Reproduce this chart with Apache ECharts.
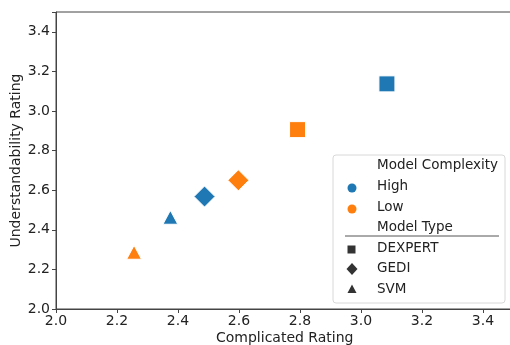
<!DOCTYPE html>
<html><head><meta charset="utf-8">
<script src="https://cdn.jsdelivr.net/npm/echarts@6/dist/echarts.min.js"></script>
<style>html,body{margin:0;padding:0;background:#fff}#c{width:510px;height:345px}</style>
</head><body><div id="c"></div>
<script>
const xTicks = [2.0, 2.2, 2.4, 2.6, 2.8, 3.0, 3.2, 3.4];
const yTicks = [2.0, 2.2, 2.4, 2.6, 2.8, 3.0, 3.2, 3.4];
const models = ['DEXPERT', 'GEDI', 'SVM'];
const complexity = ['High', 'Low'];
const highX = [3.085, 2.487, 2.375];
const highY = [3.137, 2.568, 2.463];
const lowX = [2.792, 2.598, 2.256];
const lowY = [2.906, 2.650, 2.287];

const colors = {High: '#1f77b4', Low: '#ff7f0e'};
const symbols = {DEXPERT: 'rect', GEDI: 'diamond', SVM: 'triangle'};
const sizes = {DEXPERT: [16,16], GEDI: [21,21], SVM: [15,14]};
const FONT = 'DejaVu Sans';

const series = [];
complexity.forEach(c => {
  const xs = c === 'High' ? highX : lowX;
  const ys = c === 'High' ? highY : lowY;
  models.forEach((m, i) => {
    series.push({
      type: 'scatter', name: c + ' ' + m,
      symbol: symbols[m], symbolSize: sizes[m],
      itemStyle: {color: colors[c], borderColor: '#fff', borderWidth: 1, opacity: 1},
      data: [[xs[i], ys[i]]]
    });
  });
});

const chart = echarts.init(document.getElementById('c'));
const axisCommon = {
  type: 'value', min: 2.0, max: 3.5, interval: 0.2,
  axisLine: {show: true, lineStyle: {color: '#444', width: 1}},
  axisTick: {show: true, inside: false, length: 4, lineStyle: {color: '#444'}},
  splitLine: {show: false},
  nameLocation: 'middle',
  nameMoveOverlap: false,
  nameTextStyle: {fontFamily: FONT, fontSize: 14, color: '#222'},
};
// Legend built as graphics
const LX = 333, LY = 155;
const rowY = [165, 186, 207, 227, 248, 268, 289];
const g = [
  {type: 'rect', shape: {x: LX, y: LY, width: 172, height: 148, r: 3},
   style: {fill: 'rgba(255,255,255,0.85)', stroke: '#d8d8d8', lineWidth: 1}, z: 100},
  {type: 'line', shape: {x1: 345, y1: 236, x2: 499, y2: 236}, style: {stroke: '#555', lineWidth: 1}, z: 101}
];
const labels = ['Model Complexity', 'High', 'Low', 'Model Type', 'DEXPERT', 'GEDI', 'SVM'];
labels.forEach((t, i) => {
  g.push({type: 'text', x: 377, y: rowY[i], z: 101,
    style: {text: t, fontFamily: FONT, fontSize: 13.5, fill: '#222', textVerticalAlign: 'middle', verticalAlign: 'middle'}});
});
g.push({type: 'circle', shape: {cx: 352, cy: 188, r: 4.5}, style: {fill: colors.High}, z: 101});
g.push({type: 'circle', shape: {cx: 352, cy: 209, r: 4.5}, style: {fill: colors.Low}, z: 101});
g.push({type: 'rect', shape: {x: 347.5, y: 245.5, width: 8, height: 8}, style: {fill: '#333'}, z: 101});
g.push({type: 'polygon', shape: {points: [[352, 263], [357.5, 269], [352, 275], [346.5, 269]]}, style: {fill: '#333'}, z: 101});
g.push({type: 'polygon', shape: {points: [[352, 284.5], [356.5, 293], [347.5, 293]]}, style: {fill: '#333'}, z: 101});

chart.setOption({
  animation: false,
  grid: {left: 56, top: 12, width: 457.5, height: 297, show: true, borderColor: '#444', borderWidth: 1,
         containLabel: false, outerBoundsMode: 'none'},
  xAxis: Object.assign({}, axisCommon, {
    name: 'Complicated Rating', nameGap: 22,
    axisLabel: {fontFamily: FONT, fontSize: 14, color: '#222', margin: 5,
      formatter: v => xTicks.some(t => Math.abs(t - v) < 1e-6) ? v.toFixed(1) : ''}
  }),
  yAxis: Object.assign({}, axisCommon, {
    name: 'Understandability Rating', nameGap: 33,
    axisLabel: {fontFamily: FONT, fontSize: 14, color: '#222', margin: 6,
      formatter: v => yTicks.some(t => Math.abs(t - v) < 1e-6) ? v.toFixed(1) : ''}
  }),
  series: series,
  graphic: g
});
</script></body></html>
